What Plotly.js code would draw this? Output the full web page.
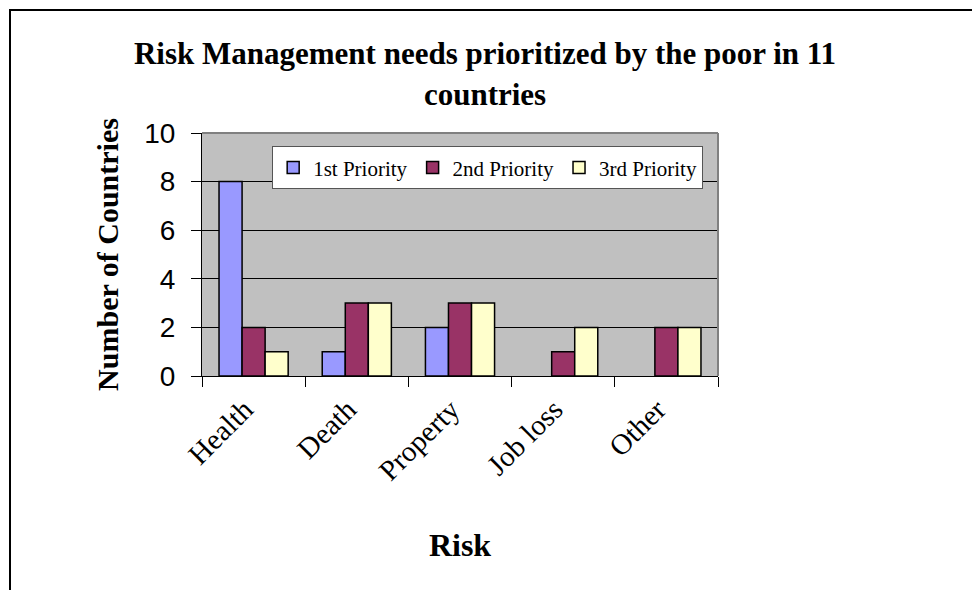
<!DOCTYPE html>
<html>
<head>
<meta charset="utf-8">
<script src="https://cdn.plot.ly/plotly-3.0.1.min.js"></script>
<style>
  html, body { margin: 0; padding: 0; background: #ffffff; }
  #wrap { position: relative; width: 972px; height: 590px; }
  #chart { position: absolute; left: 0; top: 0; width: 972px; height: 590px; }
  #frame { position: absolute; left: 9px; top: 9px; right: 0; bottom: 0;
           border-left: 2px solid #000; border-top: 2px solid #000; pointer-events: none; }
</style>
</head>
<body>
<div id="wrap">
  <div id="chart"></div>
  <div id="frame"></div>
</div>
<script>
// Risk categories and how many countries ranked each as 1st/2nd/3rd priority
const risks = ["Health", "Death", "Property", "Job loss", "Other"];
const firstPriority  = [8, 1, 2, 0, 0];
const secondPriority = [2, 3, 3, 1, 2];
const thirdPriority  = [1, 3, 3, 2, 2];
const seriesNames = ["1st Priority", "2nd Priority", "3rd Priority"];
const yTicks = [0, 2, 4, 6, 8, 10];

const serif = "Liberation Serif, Times New Roman, serif";
const sans = "Liberation Sans, Arial, sans-serif";

// empty bars get no outline so nothing is drawn on the baseline
function outlineFor(values) {
  return { color: "#000000", width: values.map(v => (v === 0 ? 0 : 1.5)) };
}

const traces = [
  { type: "bar", name: seriesNames[0], x: risks, y: firstPriority,
    marker: { color: "#9999FF", line: outlineFor(firstPriority) } },
  { type: "bar", name: seriesNames[1], x: risks, y: secondPriority,
    marker: { color: "#993366", line: outlineFor(secondPriority) } },
  { type: "bar", name: seriesNames[2], x: risks, y: thirdPriority,
    marker: { color: "#FFFFCC", line: outlineFor(thirdPriority) } }
];

const layout = {
  width: 972,
  height: 590,
  margin: { l: 202, r: 254, t: 133, b: 214 },
  paper_bgcolor: "#ffffff",
  plot_bgcolor: "#C0C0C0",
  barmode: "group",
  bargap: 0.33,
  bargroupgap: 0,
  showlegend: true,
  title: {
    text: "<b>Risk Management needs prioritized by the poor in 11<br>countries</b>",
    font: { family: serif, size: 31, color: "#000" },
    x: 0.499, xanchor: "center",
    y: 0.891, yanchor: "top"
  },
  legend: {
    orientation: "h",
    x: 0.136, xanchor: "left",
    y: 0.945, yanchor: "top",
    bgcolor: "#ffffff",
    bordercolor: "#555555",
    borderwidth: 1,
    font: { family: serif, size: 21, color: "#000" },
    traceorder: "normal"
  },
  xaxis: {
    type: "category",
    tickson: "boundaries",
    ticks: "outside",
    ticklen: 10,
    tickcolor: "#000",
    tickangle: -45,
    ticklabelshift: -9,
    ticklabelstandoff: 4,
    tickfont: { family: serif, size: 29, color: "#000" },
    showline: true,
    linecolor: "#000",
    linewidth: 1,
    showgrid: false,
    title: { text: "<b>Risk</b>", font: { family: serif, size: 32, color: "#000" }, standoff: 48 }
  },
  yaxis: {
    range: [0, 10],
    tickvals: yTicks,
    ticktext: yTicks.map(String),
    ticks: "outside",
    ticklen: 10,
    tickcolor: "#000",
    ticklabelstandoff: 10,
    tickfont: { family: sans, size: 28, color: "#000" },
    showline: true,
    linecolor: "#000",
    linewidth: 1,
    showgrid: true,
    gridcolor: "#000000",
    gridwidth: 1,
    zeroline: false,
    title: { text: "<b>Number of Countries</b>", font: { family: serif, size: 30, color: "#000" }, standoff: 16 }
  },
  shapes: [
    // plot-area border on the top and right sides
    { type: "line", xref: "paper", yref: "paper", x0: 0, x1: 1, y0: 1, y1: 1,
      line: { color: "#808080", width: 2 } },
    { type: "line", xref: "paper", yref: "paper", x0: 1, x1: 1, y0: 0, y1: 1,
      line: { color: "#808080", width: 2 } }
  ]
};

Plotly.newPlot("chart", traces, layout, { displayModeBar: false, staticPlot: true });
</script>
</body>
</html>
